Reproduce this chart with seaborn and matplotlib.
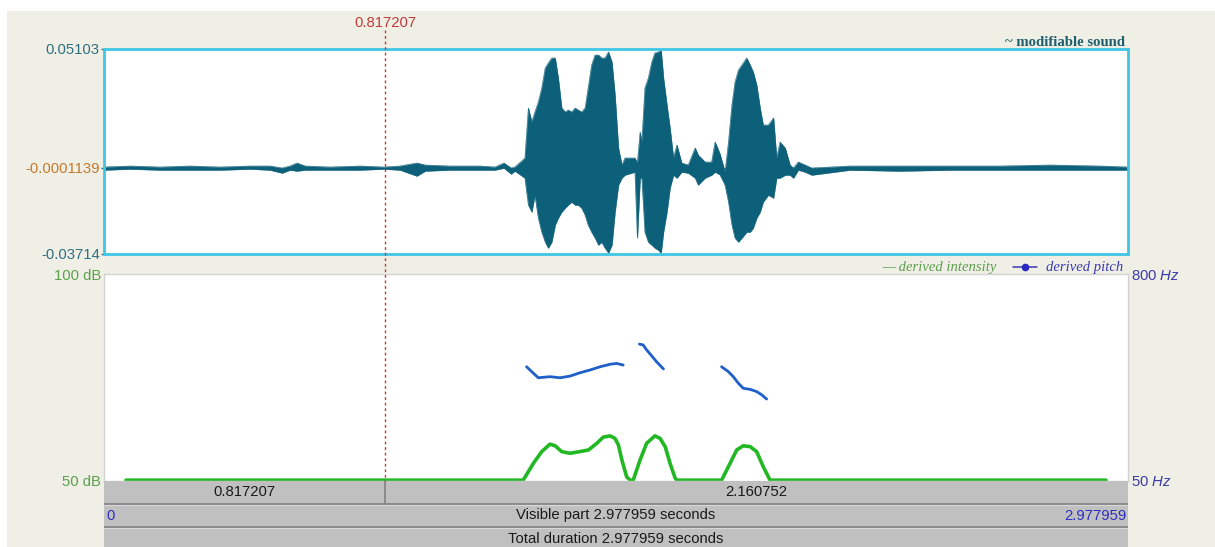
import numpy as np
import pandas as pd
import matplotlib
matplotlib.use("Agg")
import matplotlib.pyplot as plt
from matplotlib.patches import Rectangle
from matplotlib.lines import Line2D
import seaborn as sns

# ---------------- data ----------------
total_dur = 2.977959
cursor_t = 0.817207
wave_ticks = [0.05103, -0.0001139, -0.03714]
wave_tick_labels = ["0.05103", "-0.0001139", "-0.03714"]
db_ticks = [50, 100]
db_labels = ["50 dB", "100 dB"]
hz_ticks = [50, 800]
hz_labels = [r"50 $\mathit{Hz}$", r"800 $\mathit{Hz}$"]

# waveform envelope (seconds, upper, lower)
wave_t = [0.000, 0.076, 0.163, 0.250, 0.337, 0.425, 0.483, 0.518, 0.541, 0.561,
          0.585, 0.657, 0.745, 0.814, 0.861, 0.910, 0.934, 1.006, 1.094, 1.137,
          1.163, 1.184, 1.195,
          1.224, 1.234, 1.244, 1.253, 1.263, 1.273, 1.283, 1.292, 1.302, 1.312,
          1.321, 1.331, 1.341, 1.350, 1.360, 1.370, 1.379, 1.389, 1.399, 1.408,
          1.418, 1.428, 1.438, 1.447, 1.457, 1.467, 1.477, 1.486, 1.496, 1.506,
          1.515, 1.544, 1.551, 1.559, 1.564,
          1.573, 1.583, 1.593, 1.602, 1.612, 1.620, 1.627, 1.637, 1.646, 1.656,
          1.666, 1.680, 1.699, 1.719, 1.728, 1.748, 1.767, 1.777, 1.791, 1.806,
          1.816, 1.826, 1.835, 1.845, 1.855, 1.869, 1.879, 1.888, 1.898, 1.908,
          1.917, 1.932, 1.947, 1.956, 1.966, 1.981, 1.995, 2.005, 2.019, 2.039,
          2.058, 2.170, 2.315, 2.460, 2.606, 2.751, 2.897, 2.978]
wave_hi = [0.00028, 0.00071, 0.00028, 0.00071, 0.00028, 0.00071, 0.00071, -0.00015, 0.00071, 0.00200,
           0.00071, 0.00028, 0.00071, 0.00028, 0.00071, 0.00200, 0.00114, 0.00071, 0.00071, 0.00028,
           0.00200, -0.00015, 0.00028,
           0.00415, 0.02565, 0.01963, 0.02393, 0.02824, 0.03426, 0.04286, 0.04501, 0.04716, 0.04716,
           0.03856, 0.02565, 0.02393, 0.02479, 0.02393, 0.02565, 0.02479, 0.02393, 0.02565, 0.03426,
           0.04415, 0.04845, 0.04845, 0.04716, 0.04716, 0.04974, 0.04544, 0.03125, 0.00845, 0.00114,
           0.00415, 0.00415, 0.00200, 0.01533, 0.01103,
           0.03426, 0.03856, 0.04544, 0.04931, 0.04974, 0.05060, 0.03856, 0.02695, 0.01705, 0.00415,
           0.00974, 0.00200, 0.00114, 0.00845, 0.00544, 0.00243, 0.00243, 0.01103, 0.00600, -0.00187,
           0.01103, 0.02695, 0.03684, 0.04200, 0.04415, 0.04716, 0.04415, 0.04114, 0.03555, 0.02565,
           0.01834, 0.01834, 0.02135, 0.00415, 0.01103, 0.00845, 0.00114, -0.00015, 0.00243, 0.00114,
           -0.00015, 0.00071, 0.00071, 0.00071, 0.00071, 0.00114, 0.00071, 0.00028]
wave_lo = [-0.00101, -0.00058, -0.00101, -0.00101, -0.00101, -0.00058, -0.00101, -0.00230, -0.00101, -0.00144,
           -0.00101, -0.00101, -0.00101, -0.00058, -0.00101, -0.00359, -0.00144, -0.00101, -0.00101, -0.00101,
           -0.00015, -0.00273, -0.00144,
           -0.00445, -0.01606, -0.01907, -0.01176, -0.02166, -0.02768, -0.03198, -0.03456, -0.03198, -0.02467,
           -0.02166, -0.01907, -0.01735, -0.01606, -0.01477, -0.01606, -0.01606, -0.01735, -0.02036, -0.02467,
           -0.02768, -0.03026, -0.03327, -0.03198, -0.03456, -0.03671, -0.03327, -0.01907, -0.00746, -0.00445,
           -0.00316, -0.00187, -0.03026, -0.00445, -0.00445,
           -0.02768, -0.03198, -0.03327, -0.03456, -0.03542, -0.03671, -0.02768, -0.01907, -0.00875, -0.00316,
           -0.00445, -0.00187, -0.00230, -0.00445, -0.00746, -0.00445, -0.00316, -0.00187, -0.00300, -0.00746,
           -0.01477, -0.02467, -0.03026, -0.03198, -0.03026, -0.02768, -0.02768, -0.02596, -0.02166, -0.01907,
           -0.01477, -0.01176, -0.01305, -0.00445, -0.00445, -0.00316, -0.00316, -0.00445, -0.00101, -0.00187,
           -0.00316, -0.00101, -0.00144, -0.00101, -0.00101, -0.00101, -0.00101, -0.00101]

# derived intensity (s, dB)
int_t = [0.064, 1.219, 1.249, 1.273, 1.297, 1.312, 1.331, 1.355, 1.384, 1.409, 1.433,
         1.452, 1.472, 1.486, 1.496, 1.506, 1.520, 1.530,
         1.539, 1.559, 1.578, 1.602, 1.617, 1.632, 1.646, 1.661, 1.666,
         1.796, 1.821, 1.840, 1.859, 1.879, 1.898, 1.917, 1.937, 2.914]
int_db = [50.2, 50.2, 54.3, 57.1, 58.9, 58.5, 57.1, 56.7, 57.1, 57.5, 59.1,
          60.6, 60.9, 60.3, 58.7, 55.1, 51.0, 50.2,
          50.2, 55.1, 59.1, 60.9, 60.3, 58.3, 54.3, 50.7, 50.2,
          50.2, 54.3, 57.5, 58.5, 58.3, 57.1, 53.5, 50.2, 50.2]

# derived pitch (s, Hz), three voiced segments
pitch_seg = [1] * 12 + [2] * 6 + [3] * 9
pitch_t = [1.229, 1.244, 1.263, 1.297, 1.326, 1.355, 1.384, 1.413, 1.443, 1.472, 1.491, 1.510,
           1.557, 1.568, 1.578, 1.593, 1.607, 1.627,
           1.796, 1.816, 1.830, 1.845, 1.859, 1.879, 1.898, 1.913, 1.927]
pitch_hz = [464, 446, 424, 428, 424, 430, 442, 452, 464, 473, 476, 470,
            546, 543, 525, 503, 482, 456,
            464, 446, 428, 404, 386, 382, 374, 362, 347]

# ---------------- style ----------------
sns.set_style("white")
plt.rcParams["font.family"] = ["Liberation Sans", "DejaVu Sans"]
plt.rcParams["mathtext.fontset"] = "custom"
plt.rcParams["mathtext.rm"] = "Liberation Sans"
plt.rcParams["mathtext.it"] = "Liberation Sans:italic"

W, H = 1215, 547
BEIGE = "#F0EFE6"
WAVE = "#0D6079"
TEAL_TXT = "#2F6F80"
ORANGE = "#C27A2C"
GREEN_TXT = "#5BA04C"
BLUE_TXT = "#3C3CA8"
RED = "#C23A3A"
CYAN = "#3FC6E6"
GRAY = "#C0C0C0"
FS = 10.7

fig = plt.figure(figsize=(W / 100, H / 100), dpi=100, facecolor="white")
fig.patches.append(Rectangle((7 / W, 0), 1, 1 - 11 / H, transform=fig.transFigure,
                             facecolor=BEIGE, edgecolor="none", zorder=-10))


def box(x0, y0, x1, y1):
    return [x0 / W, 1 - y1 / H, (x1 - x0) / W, (y1 - y0) / H]


# ---------------- waveform panel ----------------
axw = fig.add_axes(box(104, 49, 1128, 254))
axw.set_facecolor("white")
axw.axhline(wave_ticks[1], color=WAVE, lw=0.6, ls=(0, (2, 2)), zorder=0)
axw.fill_between(wave_t, wave_lo, wave_hi, color=WAVE, lw=0.3, edgecolor=WAVE)
wave_df = pd.DataFrame({"t": wave_t, "hi": wave_hi, "lo": wave_lo})
sns.lineplot(data=wave_df, x="t", y="hi", ax=axw, color=WAVE, lw=0.4)
sns.lineplot(data=wave_df, x="t", y="lo", ax=axw, color=WAVE, lw=0.4)
axw.set_xlim(0, total_dur)
axw.set_ylim(wave_ticks[2], wave_ticks[0])
axw.set_xlabel("")
axw.set_ylabel("")
axw.set_xticks([])
axw.set_yticks(wave_ticks)
axw.set_yticklabels(wave_tick_labels, fontsize=FS)
for lab, c in zip(axw.get_yticklabels(), [TEAL_TXT, ORANGE, TEAL_TXT]):
    lab.set_color(c)
axw.tick_params(axis="y", length=2, width=1, color=TEAL_TXT, pad=1, left=True)
for s in axw.spines.values():
    s.set_color(CYAN)
    s.set_linewidth(2)

fig.text(1125 / W, 1 - 42 / H, "~ modifiable sound", ha="right", va="center",
         fontsize=10.6, fontweight="bold", family="Liberation Serif", color="#1E5D6E")

# ---------------- intensity / pitch panel ----------------
axl = fig.add_axes(box(104, 274, 1128, 481))
axl.set_facecolor("white")
sns.lineplot(x=int_t, y=int_db, ax=axl, color="#22B824", lw=2.6, clip_on=False)
axl.set_xlim(0, total_dur)
axl.set_ylim(db_ticks[0], db_ticks[1])
axl.set_xticks([])
axl.set_yticks(db_ticks)
axl.set_yticklabels(db_labels, fontsize=FS, color=GREEN_TXT)
axl.tick_params(axis="y", length=0, pad=2, left=True)
for s in axl.spines.values():
    s.set_color("#D2D2D2")
    s.set_linewidth(1)

axp = axl.twinx()
pitch_df = pd.DataFrame({"t": pitch_t, "hz": pitch_hz, "seg": pitch_seg})
sns.lineplot(data=pitch_df, x="t", y="hz", units="seg", estimator=None, ax=axp,
             color="#1F5FC8", lw=2.0, legend=False)
axp.set_xlim(0, total_dur)
axp.set_ylim(hz_ticks[0], hz_ticks[1])
axp.set_ylabel("")
axp.set_yticks(hz_ticks)
axp.set_yticklabels(hz_labels, fontsize=FS, color=BLUE_TXT)
axp.tick_params(axis="y", length=0, pad=2, right=True)
for s in axp.spines.values():
    s.set_visible(False)

fig.text(996 / W, 1 - 267 / H, "\u2014 derived intensity", ha="right", va="center",
         fontsize=10.5, style="italic", family="Liberation Serif", color="#5BA050")
fig.text(1123 / W, 1 - 267 / H, "derived pitch", ha="right", va="center",
         fontsize=10.5, style="italic", family="Liberation Serif", color="#3A3AB4")
fig.add_artist(Line2D([1013 / W, 1037 / W], [1 - 267 / H, 1 - 267 / H], transform=fig.transFigure,
                      color="#3A3AB4", lw=1.1))
fig.add_artist(Line2D([1025 / W], [1 - 267 / H], transform=fig.transFigure, marker="o",
                      markersize=4.5, color="#2A2AC0", lw=0))

# ---------------- time bars ----------------
axb = fig.add_axes(box(104, 481, 1128, 547))
axb.set_facecolor(GRAY)
axb.set_xlim(0, total_dur)
axb.set_ylim(66 / 23, 0)
axb.set_xticks([])
axb.set_yticks([])
for s in axb.spines.values():
    s.set_visible(False)
axb.hlines([1, 2], 0, total_dur, color="#858585", lw=1.3)
axb.hlines([1.06, 2.06], 0, total_dur, color="#D8D8D8", lw=0.8)
axb.vlines(cursor_t, 0, 1, color="#858585", lw=1.3)
axb.text(cursor_t / 2, 0.5, f"{cursor_t:.6f}", ha="center", va="center", fontsize=FS, color="#1A1A1A")
axb.text((cursor_t + total_dur) / 2, 0.5, f"{total_dur - cursor_t:.6f}", ha="center", va="center",
         fontsize=FS, color="#1A1A1A")
axb.text(0.006, 1.5, "0", ha="left", va="center", fontsize=FS, color="#2E2EC0")
axb.text(total_dur - 0.003, 1.5, f"{total_dur:.6f}", ha="right", va="center", fontsize=FS, color="#2E2EC0")
axb.text(total_dur / 2, 1.5, f"Visible part {total_dur:.6f} seconds", ha="center", va="center",
         fontsize=FS, color="#1A1A1A")
axb.text(total_dur / 2, 2.52, f"Total duration {total_dur:.6f} seconds", ha="center", va="center",
         fontsize=FS, color="#1A1A1A")

# ---------------- cursor overlay ----------------
axc = fig.add_axes(box(104, 0, 1128, 547))
axc.set_xlim(0, total_dur)
axc.set_ylim(547, 0)
axc.axis("off")
axc.vlines(cursor_t, 30, 481, color=RED, lw=1, linestyles=(0, (2, 2)))
axc.text(cursor_t, 23, f"{cursor_t:.6f}", ha="center", va="center", fontsize=FS, color=RED)

fig.savefig("out.png", dpi=100, facecolor="white")
